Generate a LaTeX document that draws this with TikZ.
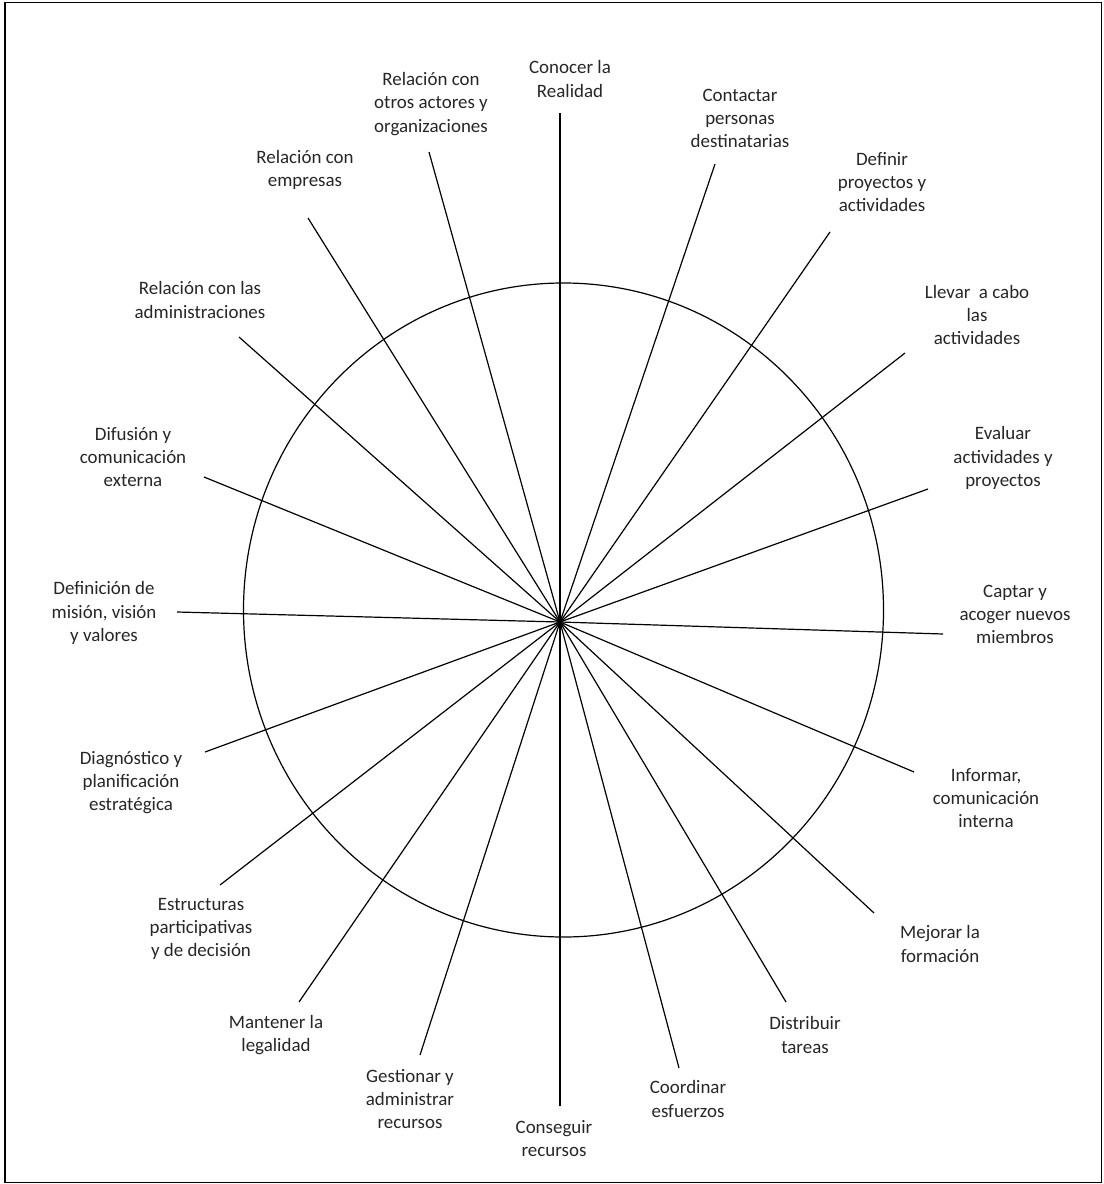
\documentclass[tikz,border=0pt]{standalone}
\usepackage{fontspec}
\setmainfont{Carlito}
\usepackage{tikz}

\tikzset{
  spoke/.style={draw=black, line width=0.9pt},
  lbl/.style={anchor=center, inner sep=0.75pt, align=center, text=black!85,
    font=\fontsize{14.2pt}{17.3pt}\selectfont},
}

\begin{document}
\begin{tikzpicture}[x=0.75pt,y=0.75pt,yscale=-1,xscale=1]
        \useasboundingbox (0,0) rectangle (1103,1184);

        %Shape: Rectangle [frame]
        \draw [line width=1.1pt] (5,2.5) rectangle (1101.5,1182.5) ;

        %Shape: Ellipse [wheel]
        \draw [line width=0.9pt] (563.5,610) ellipse [x radius=320, y radius=327] ;

        % hub and spoke ends
        \coordinate (hub) at (560,622);
        \coordinate (eConocer) at (560,113);
        \coordinate (eOtros) at (429,152);
        \coordinate (eContactar) at (715,164);
        \coordinate (eEmpresas) at (308,218);
        \coordinate (eDefinir) at (830,232);
        \coordinate (eAdmin) at (239,337);
        \coordinate (eLlevar) at (905,353);
        \coordinate (eDifusion) at (204,477);
        \coordinate (eEvaluar) at (928,489);
        \coordinate (eMision) at (177,612);
        \coordinate (eCaptar) at (943,634);
        \coordinate (eDiagnostico) at (205,752);
        \coordinate (eInformar) at (914,772);
        \coordinate (eEstructuras) at (220,885);
        \coordinate (eMejorar) at (874,913);
        \coordinate (eMantener) at (299,1002);
        \coordinate (eDistribuir) at (786,1002);
        \coordinate (eGestionar) at (420,1055);
        \coordinate (eCoordinar) at (679,1068);
        \coordinate (eConseguir) at (560,1106);

        %Straight Lines [spokes]
        \draw [spoke] (hub) -- (eConocer) ;
        \draw [spoke] (hub) -- (eOtros) ;
        \draw [spoke] (hub) -- (eContactar) ;
        \draw [spoke] (hub) -- (eEmpresas) ;
        \draw [spoke] (hub) -- (eDefinir) ;
        \draw [spoke] (hub) -- (eAdmin) ;
        \draw [spoke] (hub) -- (eLlevar) ;
        \draw [spoke] (hub) -- (eDifusion) ;
        \draw [spoke] (hub) -- (eEvaluar) ;
        \draw [spoke] (hub) -- (eMision) ;
        \draw [spoke] (hub) -- (eCaptar) ;
        \draw [spoke] (hub) -- (eDiagnostico) ;
        \draw [spoke] (hub) -- (eInformar) ;
        \draw [spoke] (hub) -- (eEstructuras) ;
        \draw [spoke] (hub) -- (eMejorar) ;
        \draw [spoke] (hub) -- (eMantener) ;
        \draw [spoke] (hub) -- (eDistribuir) ;
        \draw [spoke] (hub) -- (eGestionar) ;
        \draw [spoke] (hub) -- (eCoordinar) ;
        \draw [spoke] (hub) -- (eConseguir) ;

        % Text Node
        \node [lbl] (conocer) at (570,79) {Conocer la\\Realidad};
        % Text Node
        \node [lbl] (otros) at (431,104) {Relación con\\otros actores y\\organizaciones};
        % Text Node
        \node [lbl] (contactar) at (740,118) {Contactar\\personas\\destinatarias};
        % Text Node
        \node [lbl] (empresas) at (305,170) {Relación con\\empresas};
        % Text Node
        \node [lbl] (definir) at (882,182) {Definir\\proyectos y\\actividades};
        % Text Node
        \node [lbl] (admin) at (200,300) {Relación con las\\administraciones};
        % Text Node
        \node [lbl] (llevar) at (977,315) {Llevar\ \ a cabo\\las\\actividades};
        % Text Node
        \node [lbl] (difusion) at (133,457) {Difusión y\\comunicación\\externa};
        % Text Node
        \node [lbl] (evaluar) at (1003,458) {Evaluar\\actividades y\\proyectos};
        % Text Node
        \node [lbl] (mision) at (104,613) {Definición de\\misión, visión\\y valores};
        % Text Node
        \node [lbl] (captar) at (1015,614) {Captar y\\acoger nuevos\\miembros};
        % Text Node
        \node [lbl] (diagnostico) at (131,783) {Diagnóstico y\\planificación\\estratégica};
        % Text Node
        \node [lbl] (informar) at (986,798) {Informar,\\comunicación\\interna};
        % Text Node
        \node [lbl] (estructuras) at (201,929) {Estructuras\\participativas\\y de decisión};
        % Text Node
        \node [lbl] (mejorar) at (940,944) {Mejorar la\\formación};
        % Text Node
        \node [lbl] (mantener) at (276,1035) {Mantener la\\legalidad};
        % Text Node
        \node [lbl] (distribuir) at (805,1035) {Distribuir\\tareas};
        % Text Node
        \node [lbl] (gestionar) at (410,1099) {Gestionar y\\administrar\\recursos};
        % Text Node
        \node [lbl] (coordinar) at (688,1099) {Coordinar\\esfuerzos};
        % Text Node
        \node [lbl] (conseguir) at (554,1139) {Conseguir\\recursos};

\end{tikzpicture}
\end{document}
